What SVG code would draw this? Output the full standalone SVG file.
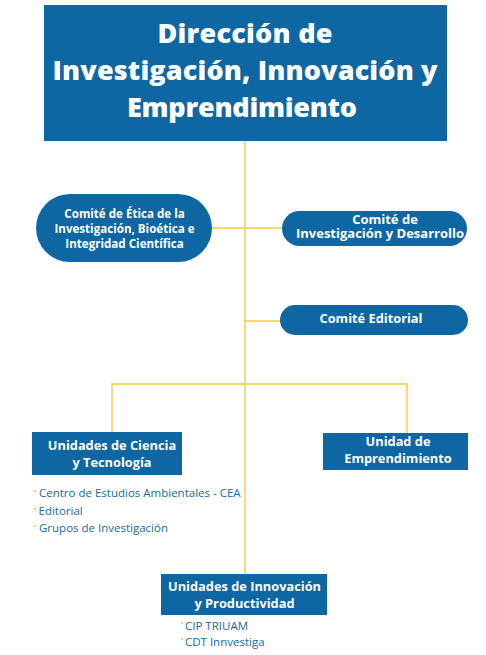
<svg xmlns="http://www.w3.org/2000/svg" width="486" height="655" viewBox="0 0 486 655">
<style>
.box{fill:#0e67a3}
.t{font-family:"Open Sans","Noto Sans",sans-serif;font-weight:bold;fill:#ffffff;text-anchor:middle}
.title{font-size:27px;font-weight:800}
.n{font-size:11.6px}
.m{font-size:12.8px}
.item{font-family:"Open Sans","Noto Sans",sans-serif;font-size:11.5px;fill:#1a69a2}
.dot{fill:#f5c842}
.ln{stroke:#f5cb3c;stroke-width:1.4;fill:none}
</style>
<rect width="486" height="655" fill="#ffffff"/>
<g id="connectors">
<path class="ln" d="M245 141V574"/>
<path class="ln" d="M212 228H282"/>
<path class="ln" d="M245 321H280"/>
<path class="ln" d="M112 432V384H407V433"/>
</g>
<g id="direccion">
<rect class="box" x="44" y="5" width="403" height="136"/>
<text class="t title" x="245" y="43" textLength="175">Dirección de</text>
<text class="t title" x="245" y="80" textLength="385">Investigación, Innovación y</text>
<text class="t title" x="242" y="117" textLength="230">Emprendimiento</text>
</g>
<g id="comite-etica">
<rect class="box" x="36" y="194" width="176" height="68" rx="34"/>
<text class="t n" x="124.5" y="218">Comité de Ética de la</text>
<text class="t n" x="124.5" y="233">Investigación, Bioética e</text>
<text class="t n" x="124.5" y="248">Integridad Científica</text>
</g>
<g id="comite-id">
<rect class="box" x="282" y="211" width="185" height="35" rx="17.5"/>
<text class="t" x="385" y="224" font-size="13">Comité de</text>
<text class="t" x="380" y="238" font-size="13">Investigación y Desarrollo</text>
</g>
<g id="comite-editorial">
<rect class="box" x="280" y="305" width="188" height="30" rx="15"/>
<text class="t m" x="371" y="323">Comité Editorial</text>
</g>
<g id="unidades-ciencia">
<rect class="box" x="32" y="432" width="150" height="43"/>
<text class="t m" x="112" y="450">Unidades de Ciencia</text>
<text class="t m" x="112" y="467">y Tecnología</text>
<circle class="dot" cx="35" cy="491" r="1"/>
<text class="item" x="39" y="497">Centro de Estudios Ambientales - CEA</text>
<circle class="dot" cx="35" cy="509" r="1"/>
<text class="item" x="38.5" y="515">Editorial</text>
<circle class="dot" cx="35" cy="526" r="1"/>
<text class="item" x="39" y="532">Grupos de Investigación</text>
</g>
<g id="unidad-emprendimiento">
<rect class="box" x="323" y="433" width="145" height="37"/>
<text class="t m" x="398" y="446">Unidad de</text>
<text class="t m" x="398" y="463">Emprendimiento</text>
</g>
<g id="unidades-innovacion">
<rect class="box" x="161" y="574" width="166" height="41"/>
<text class="t m" x="244.5" y="591">Unidades de Innovación</text>
<text class="t m" x="244.5" y="608">y Productividad</text>
<circle class="dot" cx="182" cy="623" r="1"/>
<text class="item" x="185" y="630">CIP TRIUAM</text>
<circle class="dot" cx="182" cy="639" r="1"/>
<text class="item" x="185" y="646">CDT Innvestiga</text>
</g>
</svg>
